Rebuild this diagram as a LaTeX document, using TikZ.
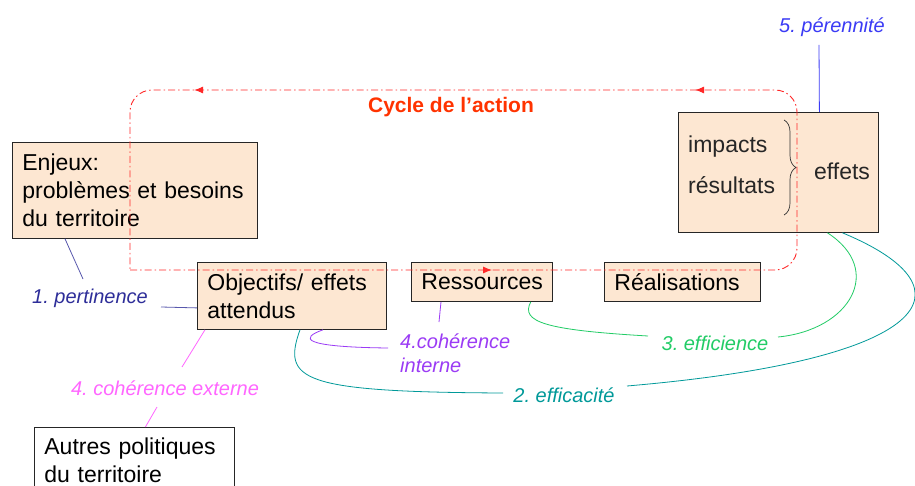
\documentclass[tikz,border=0pt]{standalone}
\usepackage{fontspec}
\setmainfont{Liberation Sans}
\frenchspacing
\usetikzlibrary{calc,arrows.meta,decorations.markings,decorations.pathreplacing}

\definecolor{peche}{RGB}{253,231,210}
\definecolor{rougecycle}{RGB}{255,40,40}
\definecolor{orangecycle}{RGB}{255,51,0}
\definecolor{bleuper}{RGB}{59,59,245}
\definecolor{bleupert}{RGB}{46,46,153}
\definecolor{roseext}{RGB}{255,102,255}
\definecolor{violetint}{RGB}{155,59,245}
\definecolor{vertefn}{RGB}{34,204,102}
\definecolor{tealefc}{RGB}{0,153,153}

\tikzset{
  boite/.style={draw=black!85, line width=0.8pt, fill=peche, anchor=north west,
    inner xsep=10pt, inner ysep=0pt, align=left, font=\fontsize{23}{28}\selectfont},
  txtboite/.style={inner sep=2pt, text=black!85, font=\fontsize{23}{28}\selectfont},
  etiquette/.style={inner sep=2pt, font=\fontsize{20}{24}\selectfont\itshape},
  lien/.style={line width=0.8pt},
  cycleaction/.style={rougecycle, line width=0.9pt, rounded corners=22pt,
    dash pattern=on 7pt off 3pt on 1.5pt off 3pt}
}

\begin{document}
\begin{tikzpicture}[x=1pt,y=-1pt]
  \clip (0,0) rectangle (915,486);
  \fill[white] (0,0) rectangle (915,486);

  % boites
  \node[boite, text width=225pt, minimum height=96pt] (enjeux) at (12,142)
    {Enjeux:\\probl\`emes et besoins\\du territoire};
  \node[boite, text width=169pt, minimum height=67pt] (objectifs) at (197,262)
    {Objectifs/ effets\\attendus};
  \node[boite, text width=121pt, minimum height=39pt] (ressources) at (411,262) {Ressources};
  \node[boite, text width=136pt, minimum height=39pt] (realisations) at (604,262) {R\'ealisations};
  \node[boite, minimum width=200pt, minimum height=120pt, inner sep=0pt] (effets) at (678,112) {};
  \node[boite, fill=white, text width=180pt, minimum height=66pt] (autres) at (34,427)
    {Autres politiques\\du territoire};

  \node[txtboite, anchor=west] (impacts) at (686,147) {impacts};
  \node[txtboite, anchor=west] (resultats) at (686,185) {r\'esultats};
  \node[txtboite] (effetstxt) at (842,171) {effets};
  \draw[black!80, line width=0.7pt, decorate, decoration={brace, amplitude=12pt}] (784,120) -- (784,215);

  % cycle de l'action
  \draw[cycleaction, postaction={decorate}, decoration={markings,
      mark=at position 362pt with {\arrow[solid]{Latex[length=9pt,width=7pt]}},
      mark=at position 930pt with {\arrow[solid]{Latex[length=9pt,width=7pt]}},
      mark=at position 1431pt with {\arrow[solid]{Latex[length=9pt,width=7pt]}}}]
    (130,270) -- (797,270) -- (797,90) -- (130,90) -- (130,270);
  \node[orangecycle, font=\fontsize{21}{24}\selectfont\bfseries] (cycle) at (451,107) {Cycle de l’action};

  % etiquettes
  \node[etiquette, bleuper] (perennite) at (832,27) {5. p\'erennit\'e};
  \node[etiquette, bleupert] (pertinence) at (90,298) {1. pertinence};
  \node[etiquette, roseext] (cohext) at (165,388) {4. coh\'erence externe};
  \node[etiquette, violetint, anchor=west, align=left] (cohint) at (398,353) {4.coh\'erence\\interne};
  \node[etiquette, vertefn] (efficience) at (715,343) {3. efficience};
  \node[etiquette, tealefc] (efficacite) at (564,395) {2. efficacit\'e};

  % liens
  \draw[lien, bleuper] ($(effets.north)+(41,0)$) -- ($(perennite)+(-13,18)$);
  \draw[lien, bleupert!80] ($(enjeux.south west)+(53,0)$) -- ($(pertinence)+(-7,-19)$);
  \draw[lien, bleupert!80] ($(objectifs.west)+(0,12)$) -- ($(pertinence)+(71,9)$);
  \draw[lien, roseext] ($(objectifs.south west)+(8,0)$) -- ($(cohext)+(17,-21)$);
  \draw[lien, roseext] ($(cohext)+(-8,19)$) -- ($(autres.north)+(11,0)$);
  \draw[lien, violetint] ($(ressources.south west)+(30,0)$) -- ($(cohint.west)+(41,-31)$);
  \draw[lien, violetint] ($(objectifs.south west)+(126,0)$) .. controls (300,338) and (300,347) .. ($(cohint.west)+(-10,-5)$);
  \draw[lien, vertefn] ($(ressources.south east)+(-22,0)$) .. controls (520,322) and (545,330) .. ($(efficience)+(-67,-7)$);
  \draw[lien, vertefn] ($(efficience)+(63,-6)$) .. controls (850,330) and (885,270) .. ($(effets.south)+(49,0)$);
  \draw[lien, tealefc] ($(objectifs.south west)+(103,0)$) .. controls (282,380) and (300,392) .. ($(efficacite)+(-61,-2)$);
  \draw[lien, tealefc] ($(efficacite)+(63,-9)$) .. controls (930,360) and (980,290) .. ($(effets.south)+(64,0)$);
\end{tikzpicture}
\end{document}
